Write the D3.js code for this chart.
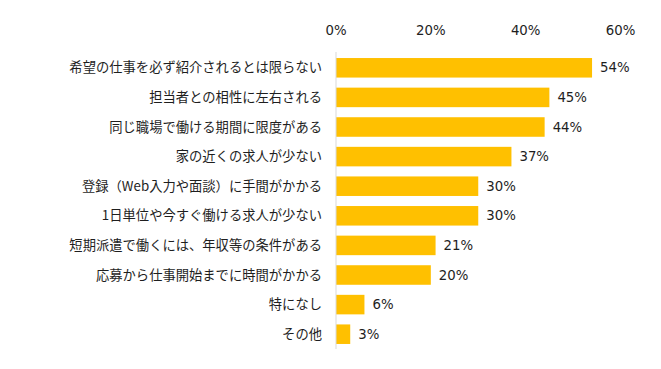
<!DOCTYPE html>
<html>
<head>
<meta charset="utf-8">
<script src="https://cdn.jsdelivr.net/npm/d3@7"></script>
<style>
  body { margin: 0; background: #fff; }
  svg text { font-family: "Noto Sans CJK JP", "Noto Sans", sans-serif; fill: #1e1e1e; }
  svg text.num { font-family: "DejaVu Sans", "Noto Sans", sans-serif; }
</style>
</head>
<body>
<svg class="chart" width="661" height="369"></svg>
<script>
var categories = [
  "希望の仕事を必ず紹介されるとは限らない",
  "担当者との相性に左右される",
  "同じ職場で働ける期間に限度がある",
  "家の近くの求人が少ない",
  "登録（Web入力や面談）に手間がかかる",
  "1日単位や今すぐ働ける求人が少ない",
  "短期派遣で働くには、年収等の条件がある",
  "応募から仕事開始までに時間がかかる",
  "特になし",
  "その他"
];
var values = [54, 45, 44, 37, 30, 30, 21, 20, 6, 3];
var tickValues = [0, 20, 40, 60];

var svg = d3.select("svg.chart");

var x = d3.scaleLinear()
    .domain([0, 60])
    .range([336, 620.5]);

var y = d3.scaleBand()
    .domain(categories)
    .range([53, 349])
    .paddingInner(0.34)
    .paddingOuter(0.17);

// top tick labels
svg.append("g")
  .selectAll("text")
  .data(tickValues)
  .enter().append("text")
    .attr("class", "num")
    .attr("x", function(d) { return x(d); })
    .attr("y", 30)
    .attr("dy", "0.35em")
    .attr("text-anchor", "middle")
    .style("font-size", "13.3px")
    .text(function(d) { return d + "%"; });

// bars
svg.append("g")
  .selectAll("rect")
  .data(values)
  .enter().append("rect")
    .attr("x", x(0))
    .attr("y", function(d, i) { return y(categories[i]); })
    .attr("width", function(d) { return x(d) - x(0); })
    .attr("height", y.bandwidth())
    .attr("fill", "#FFC000");

// vertical axis line
svg.append("line")
    .attr("x1", x(0)).attr("x2", x(0))
    .attr("y1", y.range()[0] - 1).attr("y2", y.range()[1])
    .attr("stroke", "#d9d9d9")
    .attr("stroke-width", 1);

// category labels
svg.append("g")
  .selectAll("text")
  .data(categories)
  .enter().append("text")
    .attr("x", 322)
    .attr("y", function(d) { return y(d) + y.bandwidth() / 2; })
    .attr("dy", "0.35em")
    .attr("text-anchor", "end")
    .style("font-size", "13.3px")
    .text(function(d) { return d; });

// value labels
svg.append("g")
  .selectAll("text")
  .data(values)
  .enter().append("text")
    .attr("class", "num")
    .attr("x", function(d) { return x(d) + 8; })
    .attr("y", function(d, i) { return y(categories[i]) + y.bandwidth() / 2; })
    .attr("dy", "0.35em")
    .style("font-size", "13.3px")
    .text(function(d) { return d + "%"; });
</script>
</body>
</html>
